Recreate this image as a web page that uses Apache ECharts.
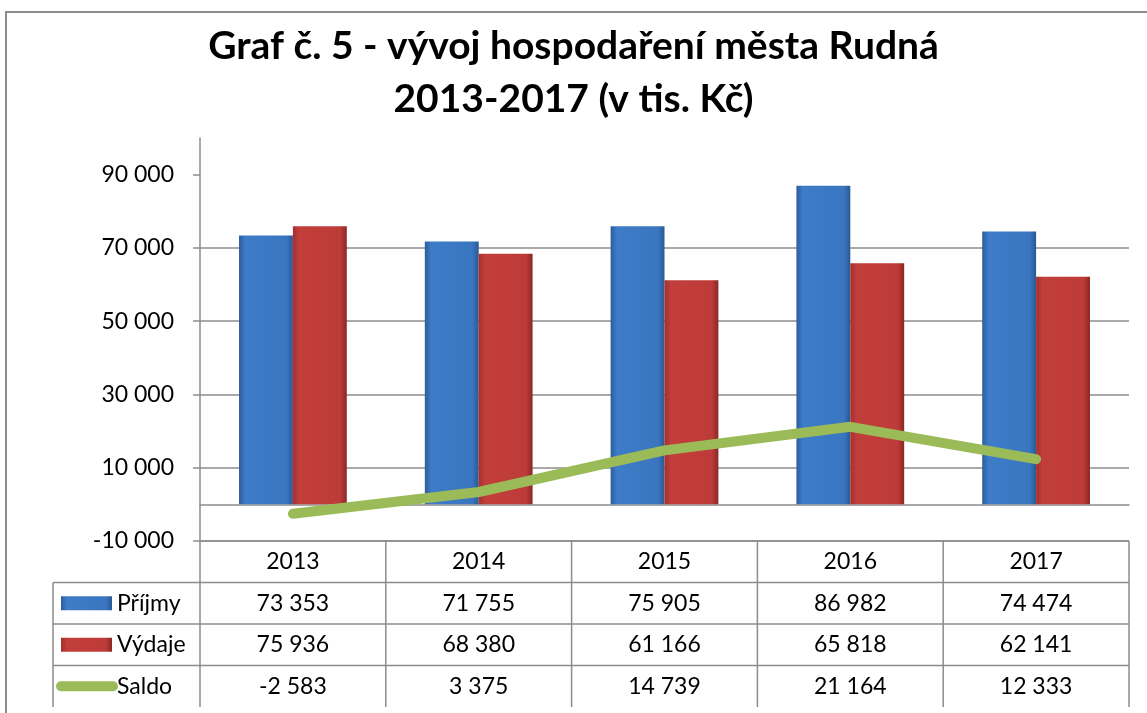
<!DOCTYPE html>
<html>
<head>
<meta charset="utf-8">
<script src="https://cdn.jsdelivr.net/npm/echarts@6/dist/echarts.min.js"></script>
<style>
  html, body { margin: 0; padding: 0; background: #fff; }
  #chart { width: 1147px; height: 713px; }
</style>
</head>
<body>
<div id="chart"></div>
<script>
// data
const years = ["2013", "2014", "2015", "2016", "2017"];
const prijmy = [73353, 71755, 75905, 86982, 74474];
const vydaje = [75936, 68380, 61166, 65818, 62141];
const saldo = [-2583, 3375, 14739, 21164, 12333];
const yTicks = [-10000, 10000, 30000, 50000, 70000, 90000];
const seriesNames = ["Příjmy", "Výdaje", "Saldo"];

const FONT = "Lato, 'Open Sans', sans-serif";
const GRAY = "#8c8c8c";

// cisla s mezerou jako oddelovacem tisicu
const fmt = (v) =>
  (v < 0 ? "-" : "") + Math.abs(v).toString().replace(/\B(?=(\d{3})+(?!\d))/g, " ");

const blueGrad = new echarts.graphic.LinearGradient(0, 0, 1, 0, [
  { offset: 0, color: "#2c5d9c" },
  { offset: 0.12, color: "#3d7cc8" },
  { offset: 0.88, color: "#3a76c0" },
  { offset: 1, color: "#2a5894" },
]);
const redGrad = new echarts.graphic.LinearGradient(0, 0, 1, 0, [
  { offset: 0, color: "#a3302e" },
  { offset: 0.12, color: "#c23e3b" },
  { offset: 0.88, color: "#bd3b38" },
  { offset: 1, color: "#8a2725" },
]);

const chart = echarts.init(document.getElementById("chart"));

const option = {
  animation: false,
  title: {
    text: "Graf č. 5 - vývoj hospodaření města Rudná\n2013-2017 (v tis. Kč)",
    left: "center",
    top: 15,
    textStyle: {
      fontFamily: FONT,
      fontWeight: "bold",
      fontSize: 39,
      lineHeight: 53,
      color: "#000",
    },
  },
  grid: { left: 200, right: 18, top: 138, bottom: 172 },
  xAxis: {
    type: "category",
    data: years,
    axisLine: { onZero: true, lineStyle: { color: GRAY, width: 1.5 } },
    axisTick: { show: false },
    axisLabel: { show: false },
  },
  yAxis: {
    type: "value",
    min: -10000,
    max: 100000,
    interval: 20000,
    axisLine: { show: true, lineStyle: { color: GRAY, width: 1.5 } },
    axisTick: {
      show: true,
      length: 7,
      customValues: yTicks,
      lineStyle: { color: GRAY, width: 1.5 },
    },
    axisLabel: {
      customValues: yTicks,
      margin: 26,
      fontFamily: FONT,
      fontSize: 23,
      color: "#000",
      formatter: (v) => fmt(v),
    },
    splitLine: {
      show: true,
      showMaxLine: false,
      lineStyle: { color: GRAY, width: 1.5 },
    },
  },
  series: [
    {
      name: seriesNames[0],
      type: "bar",
      data: prijmy,
      barGap: "0%",
      barCategoryGap: "42%",
      itemStyle: {
        color: blueGrad,
        shadowColor: "rgba(0,0,0,0.35)",
        shadowBlur: 6,
        shadowOffsetX: 2,
        shadowOffsetY: 3,
      },
    },
    {
      name: seriesNames[1],
      type: "bar",
      data: vydaje,
      itemStyle: {
        color: redGrad,
        shadowColor: "rgba(0,0,0,0.35)",
        shadowBlur: 6,
        shadowOffsetX: 2,
        shadowOffsetY: 3,
      },
    },
    {
      name: seriesNames[2],
      type: "line",
      data: saldo,
      symbol: "none",
      z: 5,
      lineStyle: { color: "#9bbb59", width: 10, cap: "round", join: "round" },
    },
  ],
};
chart.setOption(option);

// tabulka s daty pod grafem
const buildTable = () => {
  const gfx = [];
  const x0 = chart.convertToPixel({ xAxisIndex: 0 }, 0);
  const x1 = chart.convertToPixel({ xAxisIndex: 0 }, 1);
  const cw = x1 - x0;
  const left = x0 - cw / 2;
  const right = left + cw * years.length;
  const top = chart.convertToPixel({ yAxisIndex: 0 }, -10000);
  const rowH = 41.5;
  const bottom = top + rowH * 4;
  const tableLeft = 53;
  const line = (xa, ya, xb, yb) => ({
    type: "line",
    shape: { x1: xa, y1: ya, x2: xb, y2: yb },
    style: { stroke: GRAY, lineWidth: 1.5 },
  });
  const text = (t, x, y, align) => ({
    type: "text",
    x: x,
    y: y,
    style: {
      text: t,
      fontFamily: FONT,
      fontSize: 23,
      fill: "#000",
      align: align || "center",
      verticalAlign: "middle",
    },
  });

  // vnejsi ramecek
  gfx.push({
    type: "rect",
    shape: { x: 6, y: 12, width: 1200, height: 760 },
    style: { fill: null, stroke: GRAY, lineWidth: 2 },
  });

  // svisle cary
  for (let i = 0; i <= years.length; i++) {
    gfx.push(line(left + i * cw, top, left + i * cw, bottom));
  }
  gfx.push(line(tableLeft, top + rowH, tableLeft, bottom));
  // vodorovne cary
  gfx.push(line(left, top, right, top));
  for (let r = 1; r <= 3; r++) {
    gfx.push(line(tableLeft, top + r * rowH, right, top + r * rowH));
  }

  // roky
  years.forEach((y, i) => {
    gfx.push(text(y, left + cw * (i + 0.5), top + rowH * 0.5));
  });
  // hodnoty
  [prijmy, vydaje, saldo].forEach((arr, r) => {
    arr.forEach((v, i) => {
      gfx.push(text(fmt(v), left + cw * (i + 0.5), top + rowH * (r + 1.5)));
    });
  });

  // legenda v tabulce
  const keyY = (r) => top + rowH * (r + 1.5);
  gfx.push({
    type: "rect",
    shape: { x: 61, y: keyY(0) - 7, width: 51, height: 14 },
    style: { fill: blueGrad },
  });
  gfx.push({
    type: "rect",
    shape: { x: 61, y: keyY(1) - 7, width: 51, height: 14 },
    style: { fill: redGrad },
  });
  gfx.push({
    type: "line",
    shape: { x1: 61, y1: keyY(2), x2: 113, y2: keyY(2) },
    style: { stroke: "#9bbb59", lineWidth: 10, lineCap: "round" },
  });
  seriesNames.forEach((n, r) => {
    gfx.push(text(n, 117, keyY(r), "left"));
  });

  chart.setOption({ graphic: gfx });
};
buildTable();
</script>
</body>
</html>
